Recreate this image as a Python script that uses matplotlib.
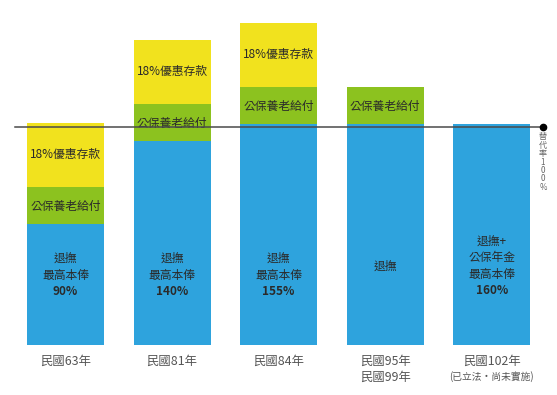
import matplotlib
matplotlib.use("Agg")
import matplotlib.pyplot as plt

plt.rcParams['font.family'] = ['Noto Sans CJK TC', 'DejaVu Sans']

# ---- data (replacement-rate scale, 100 = reference line) ----
categories = ["民國63年", "民國81年", "民國84年", "民國95年\n民國99年", "民國102年"]
category_notes = ["", "", "", "", "(已立法・尚未實施)"]
pension_base = [55.5, 93.6, 101.4, 101.4, 101.4]      # 退撫 (blue)
insurance_pension = [17.0, 17.0, 17.0, 17.0, 0.0]     # 公保養老給付 (green)
preferential_deposit = [29.4, 29.4, 29.4, 0.0, 0.0]   # 18%優惠存款 (yellow)
blue_labels = [["退撫", "最高本俸"], ["退撫", "最高本俸"], ["退撫", "最高本俸"],
               ["退撫"], ["退撫+", "公保年金", "最高本俸"]]
blue_percent = ["90%", "140%", "155%", "", "160%"]
green_label = "公保養老給付"
yellow_label = "18%優惠存款"
reference_value = 100
reference_label = "替代率100%"

BLUE = "#2EA3DD"
GREEN = "#8CC21F"
YELLOW = "#F1E21E"
TEXT = "#2a2a2a"

fig = plt.figure(figsize=(5.57, 3.95), dpi=100)
ax = fig.add_axes([0, 0, 1, 1])
ax.set_xlim(-0.614, 4.611)
ax.set_ylim(-22.94, 158.26)
ax.axis("off")

x = list(range(len(categories)))
w = 0.722
ax.bar(x, pension_base, width=w, color=BLUE, zorder=2)
ax.bar(x, insurance_pension, width=w, bottom=pension_base, color=GREEN, zorder=2)
bottom2 = [a + b for a, b in zip(pension_base, insurance_pension)]
ax.bar(x, preferential_deposit, width=w, bottom=bottom2, color=YELLOW, zorder=2)

fs = 8.5
step = 7.6  # vertical spacing between label lines (data units)
for i in x:
    if insurance_pension[i] > 0:
        ax.text(i, pension_base[i] + insurance_pension[i] / 2 - 0.6, green_label,
                ha="center", va="center", fontsize=fs, color=TEXT, zorder=3)
    if preferential_deposit[i] > 0:
        ax.text(i, bottom2[i] + preferential_deposit[i] / 2, yellow_label,
                ha="center", va="center", fontsize=fs, color=TEXT, zorder=3)
    lines = list(blue_labels[i])
    if blue_percent[i]:
        lines.append(blue_percent[i])
    n = len(lines)
    ycenter = 32.1 if n == 3 else 36.2
    top = ycenter + step * (n - 1) / 2
    for k, s in enumerate(lines):
        bold = (k == n - 1 and blue_percent[i] != "")
        ax.text(i, top - k * step, s, ha="center", va="center", fontsize=fs,
                color=TEXT, fontweight="bold" if bold else "normal", zorder=3)
    # category label
    ax.text(i, -4.3, categories[i], ha="center", va="top", fontsize=8.9,
            color="#555555", linespacing=1.35, zorder=3)
    if category_notes[i]:
        ax.text(i, -11.8, category_notes[i], ha="center", va="top", fontsize=7.0,
                color="#555555", zorder=3)

# reference line
ax.plot([-0.474, 4.479], [reference_value, reference_value], color="#4a4a4a",
        lw=1.1, zorder=4)
ax.plot([4.479], [reference_value], "o", color="black", ms=4.5, zorder=5)
ax.text(4.479, reference_value - 2.4, "\n".join(reference_label), ha="center",
        va="top", fontsize=5.8, color="#666666", linespacing=0.92, zorder=5)

fig.savefig("out.png", dpi=100)
